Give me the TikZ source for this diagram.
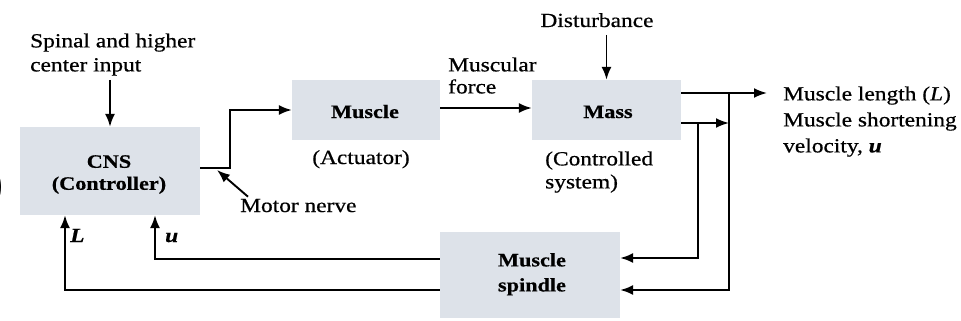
\documentclass[tikz,border=0pt]{standalone}
\usepackage{fontspec}
\setmainfont[FakeStretch=1.17,FakeBold=0.6]{Liberation Serif}
\usetikzlibrary{arrows.meta}
\definecolor{boxfill}{RGB}{221,226,233}
\begin{document}
\begin{tikzpicture}[x=1pt,y=-1pt,
  box/.style={draw=none, fill=boxfill, inner sep=0},
  lbl/.style={inner sep=0, font=\fontsize{20}{24}\selectfont},
  blbl/.style={inner sep=0, font=\fontsize{19}{22}\selectfont\bfseries},
  arr/.style={line width=1.9pt, -{Latex[length=13pt,width=10pt]}},
  ln/.style={line width=1.9pt}]
\useasboundingbox (0,0) rectangle (961,321);
\fill[white] (0,0) rectangle (961,321);

% partial parenthesis at left edge
\node[inner sep=0, anchor=east, font=\fontsize{44}{44}\selectfont\sffamily\bfseries] (paren) at (6,187) {)};

% boxes
\node[box, minimum width=180pt, minimum height=88pt] (cns) at (110,171) {};
\node[box, minimum width=148pt, minimum height=60pt] (muscle) at (366,110) {};
\node[box, minimum width=149pt, minimum height=60pt] (mass) at (606.5,110) {};
\node[box, minimum width=180pt, minimum height=86pt] (spindle) at (530,275) {};

% box texts
\node[blbl, align=center, anchor=north] (cnst) at (109,155) {CNS\\(Controller)};
\node[blbl, anchor=base] (musclet) at (365,118) {Muscle};
\node[blbl, anchor=base] (masst) at (608,118) {Mass};
\node[inner sep=0, align=center, anchor=north, font=\fontsize{19}{25}\selectfont\bfseries] (spindlet) at (532,253) {Muscle\\spindle};

% labels
\node[lbl, align=left, anchor=north west] (inp) at (30,33.3) {Spinal and higher\\center input};
\node[lbl, anchor=base] (dist) at (597,27) {Disturbance};
\node[inner sep=0, align=left, anchor=north west, font=\fontsize{20}{22}\selectfont] (force) at (448,57.3) {Muscular\\force};
\node[lbl, anchor=base] (act) at (361,164) {(Actuator)};
\node[inner sep=0, align=left, anchor=north west, font=\fontsize{20}{23}\selectfont] (ctrl) at (545,151.3) {(Controlled\\system)};
\node[inner sep=0, align=left, anchor=north west, font=\fontsize{20}{26}\selectfont] (outl) at (783,86.3) {Muscle length (\textit{L})\\Muscle shortening\\velocity, \textbf{\textit{u}}};
\node[lbl, anchor=base west] (motor) at (240,212) {Motor nerve};
\node[lbl, anchor=base west, font=\fontsize{20}{24}\selectfont\bfseries\itshape] (Ll) at (70,242) {L};
\node[lbl, anchor=base west, font=\fontsize{20}{24}\selectfont\bfseries\itshape] (ul) at (165,242) {u};

% connectors
\draw[arr] (cns.north) ++(0,-47) -- (cns.north);
\draw[arr] (cns.east |- 0,168) -- (230,168) -- (230,110) -- (muscle.west);
\draw[arr] ([shift={(8,-2)}]motor.north west) -- (217,170);
\draw[arr] (muscle.east |- 0,108) -- (mass.west |- 0,108);
\draw[arr] (mass.north) ++(0,-45) -- (mass.north);
\draw[arr] (mass.east |- 0,93) -- (767,93);
\draw[arr] (729,93) |- (spindle.east |- 0,290);
\draw[arr] (mass.east |- 0,123) -- (729,123);
\draw[arr] (698,123) |- (spindle.east |- 0,258);
\draw[arr] (spindle.west |- 0,259) -| (cns.south -| 155,0);
\draw[arr] (spindle.west |- 0,290) -| (cns.south -| 65,0);
\end{tikzpicture}
\end{document}
